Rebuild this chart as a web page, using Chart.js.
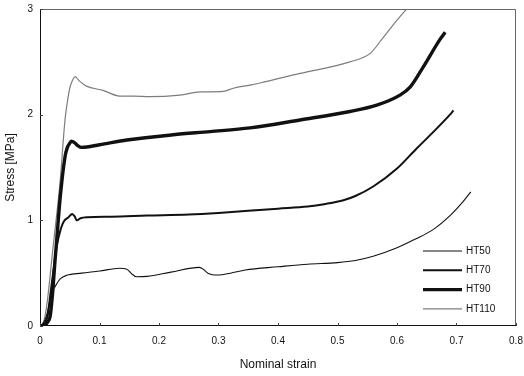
<!DOCTYPE html>
<html>
<head>
<meta charset="utf-8">
<script src="https://cdn.jsdelivr.net/npm/chart.js@4/dist/chart.umd.min.js"></script>
<style>
  html, body { margin: 0; padding: 0; background: #fff; }
  #wrap { width: 524px; height: 376px; }
</style>
</head>
<body>
<div id="wrap"><canvas id="c" width="524" height="376"></canvas></div>
<script>
// Compression tests: nominal strain vs. stress for four heat treatments
const seriesNames = ['HT50', 'HT70', 'HT90', 'HT110'];

const strainHT50 = [0, 0.006, 0.012, 0.017, 0.021, 0.025, 0.034, 0.045, 0.07, 0.1, 0.134, 0.145, 0.155, 0.162, 0.18, 0.22, 0.268, 0.275, 0.282, 0.3, 0.32, 0.345, 0.4, 0.45, 0.5, 0.53, 0.56, 0.6, 0.63, 0.66, 0.69, 0.71, 0.724];
const stressHT50 = [0, 0.03, 0.12, 0.25, 0.33, 0.37, 0.445, 0.48, 0.5, 0.52, 0.546, 0.54, 0.49, 0.466, 0.47, 0.51, 0.555, 0.535, 0.5, 0.482, 0.5, 0.53, 0.56, 0.585, 0.6, 0.62, 0.66, 0.74, 0.82, 0.91, 1.05, 1.17, 1.27];

const strainHT70 = [0, 0.008, 0.013, 0.017, 0.022, 0.028, 0.035, 0.04, 0.048, 0.054, 0.058, 0.062, 0.068, 0.08, 0.12, 0.18, 0.25, 0.3, 0.35, 0.4, 0.45, 0.48, 0.51, 0.53, 0.56, 0.6, 0.633, 0.66, 0.689, 0.695];
const stressHT70 = [0, 0.03, 0.1, 0.28, 0.5, 0.75, 0.92, 0.99, 1.03, 1.06, 1.04, 1.0, 1.02, 1.03, 1.035, 1.045, 1.055, 1.07, 1.09, 1.11, 1.13, 1.155, 1.19, 1.23, 1.32, 1.49, 1.68, 1.83, 2.0, 2.04];

const strainHT90 = [0, 0.008, 0.013, 0.017, 0.021, 0.025, 0.03, 0.034, 0.042, 0.046, 0.05, 0.053, 0.058, 0.064, 0.07, 0.1, 0.146, 0.224, 0.286, 0.353, 0.437, 0.521, 0.566, 0.605, 0.622, 0.644, 0.672, 0.681];
const stressHT90 = [0, 0.01, 0.04, 0.09, 0.3, 0.6, 0.95, 1.22, 1.6, 1.69, 1.73, 1.75, 1.735, 1.705, 1.69, 1.715, 1.76, 1.81, 1.84, 1.875, 1.95, 2.03, 2.09, 2.185, 2.26, 2.45, 2.71, 2.78];

const strainHT110 = [0, 0.006, 0.011, 0.016, 0.022, 0.028, 0.034, 0.042, 0.046, 0.05, 0.055, 0.059, 0.066, 0.078, 0.106, 0.134, 0.157, 0.185, 0.235, 0.269, 0.308, 0.325, 0.353, 0.37, 0.437, 0.521, 0.555, 0.574, 0.595, 0.616];
const stressHT110 = [0, 0.04, 0.18, 0.42, 0.75, 1.05, 1.38, 1.95, 2.12, 2.25, 2.33, 2.36, 2.32, 2.27, 2.23, 2.176, 2.175, 2.17, 2.185, 2.215, 2.22, 2.25, 2.28, 2.3, 2.39, 2.5, 2.58, 2.71, 2.86, 3.0];

const xTickValues = [0, 0.1, 0.2, 0.3, 0.4, 0.5, 0.6, 0.7, 0.8];
const xTickLabels = ['0', '0.1', '0.2', '0.3', '0.4', '0.5', '0.6', '0.7', '0.8'];
const yTickValues = [0, 1, 2, 3];
const yTickLabels = ['0', '1', '2', '3'];

function pairs(xs, ys) { return xs.map((x, i) => ({ x: x, y: ys[i] })); }

const FONT = 'Liberation Sans, Arial, sans-serif';

const styles = [
  { color: '#111', width: 1.1 },
  { color: '#111', width: 2 },
  { color: '#111', width: 3.4 },
  { color: '#7d7d7d', width: 1.2 }
];

const seriesData = [
  pairs(strainHT50, stressHT50),
  pairs(strainHT70, stressHT70),
  pairs(strainHT90, stressHT90),
  pairs(strainHT110, stressHT110)
];

// Frame round the plot, short inward tick marks and the line-sample legend
const framePlugin = {
  id: 'frame',
  afterDraw(chart) {
    const ctx = chart.ctx;
    const a = chart.chartArea;
    const xs = chart.scales.x, ys = chart.scales.y;
    ctx.save();
    // top and right edges, lighter
    ctx.strokeStyle = '#666';
    ctx.lineWidth = 1;
    ctx.beginPath();
    ctx.moveTo(a.left, a.top + 0.5);
    ctx.lineTo(a.right - 0.5, a.top + 0.5);
    ctx.lineTo(a.right - 0.5, a.bottom);
    ctx.stroke();
    // left and bottom axes
    ctx.strokeStyle = '#111';
    ctx.beginPath();
    ctx.moveTo(a.left + 0.5, a.top);
    ctx.lineTo(a.left + 0.5, a.bottom - 0.5);
    ctx.lineTo(a.right, a.bottom - 0.5);
    ctx.stroke();
    // inward ticks
    ctx.strokeStyle = '#444';
    ctx.beginPath();
    xTickValues.forEach(v => {
      const px = Math.round(xs.getPixelForValue(v)) + 0.5;
      ctx.moveTo(px, a.bottom);
      ctx.lineTo(px, a.bottom - 3);
    });
    yTickValues.forEach(v => {
      const py = Math.round(ys.getPixelForValue(v)) + 0.5;
      ctx.moveTo(a.left, py);
      ctx.lineTo(a.left + 3, py);
    });
    ctx.stroke();
    // legend
    const lx0 = 423, lx1 = 462, ly0 = 251, step = 19.3;
    ctx.font = '10px ' + FONT;
    ctx.textBaseline = 'middle';
    ctx.fillStyle = '#111';
    seriesNames.forEach((name, i) => {
      const y = ly0 + i * step;
      ctx.strokeStyle = styles[i].color;
      ctx.lineWidth = styles[i].width;
      ctx.beginPath();
      ctx.moveTo(lx0, y);
      ctx.lineTo(lx1, y);
      ctx.stroke();
      ctx.fillText(name, lx1 + 4, y);
    });
    ctx.restore();
  }
};

new Chart(document.getElementById('c'), {
  type: 'scatter',
  data: {
    datasets: seriesNames.map((name, i) => ({
      label: name,
      data: seriesData[i],
      showLine: true,
      borderColor: styles[i].color,
      borderWidth: styles[i].width,
      pointRadius: 0,
      pointHoverRadius: 0,
      cubicInterpolationMode: 'monotone',
      fill: false
    }))
  },
  options: {
    responsive: false,
    animation: false,
    devicePixelRatio: 1,
    layout: { padding: { top: 9, right: 8, left: 0, bottom: 0 } },
    plugins: { legend: { display: false }, tooltip: { enabled: false } },
    scales: {
      x: {
        type: 'linear',
        min: 0, max: 0.8,
        afterBuildTicks(scale) { scale.ticks = xTickValues.map(v => ({ value: v })); },
        afterFit(scale) { scale.height = 50; scale.paddingLeft = 0; scale.paddingRight = 0; },
        grid: { display: false, drawTicks: false },
        border: { display: false },
        ticks: {
          padding: 9,
          color: '#111',
          font: { family: FONT, size: 10 },
          maxRotation: 0,
          callback: (v) => { const k = xTickValues.findIndex(t => Math.abs(t - v) < 1e-9); return k >= 0 ? xTickLabels[k] : ''; }
        },
        title: {
          display: true,
          text: 'Nominal strain',
          color: '#111',
          font: { family: FONT, size: 12 },
          padding: { top: 0, bottom: 4 }
        }
      },
      y: {
        type: 'linear',
        min: 0, max: 3,
        afterBuildTicks(scale) { scale.ticks = yTickValues.map(v => ({ value: v })); },
        afterFit(scale) { scale.width = 40; scale.paddingTop = 0; scale.paddingBottom = 0; },
        grid: { display: false, drawTicks: false },
        border: { display: false },
        ticks: {
          padding: 7,
          color: '#111',
          font: { family: FONT, size: 10 },
          callback: (v) => { const k = yTickValues.indexOf(v); return k >= 0 ? yTickLabels[k] : ''; }
        },
        title: {
          display: true,
          text: 'Stress [MPa]',
          color: '#111',
          font: { family: FONT, size: 12 },
          padding: { top: 3, bottom: 0 }
        }
      }
    }
  },
  plugins: [framePlugin]
});
</script>
</body>
</html>
